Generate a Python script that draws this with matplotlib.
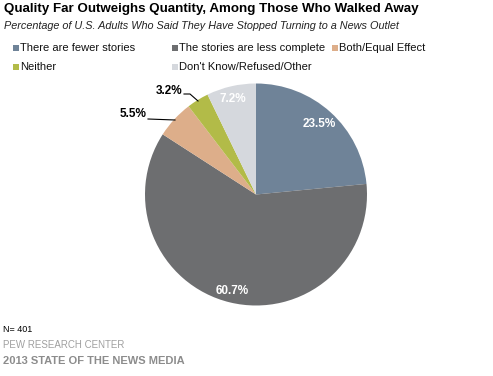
import matplotlib.pyplot as plt

labels = ['There are fewer stories', 'The stories are less complete', 'Both/Equal Effect',
          'Neither', "Don't Know/Refused/Other"]
values = [23.5, 60.7, 5.5, 3.2, 7.2]
colors = ['#6F8398', '#6D6E70', '#DDAE8A', '#B2BB48', '#D5D8DD']

plt.rcParams['font.family'] = ['Liberation Sans', 'DejaVu Sans']

fig = plt.figure(figsize=(4.93, 3.76), dpi=100)
W, H = 493, 376

# pie axes: center ~ (256, 194.5), radius ~111 px
r = 111
cx, cy = 256, 194.5
ax = fig.add_axes([(cx - r) / W, 1 - (cy + r) / H, 2 * r / W, 2 * r / H])
wedges, _ = ax.pie(values, colors=colors, startangle=90, counterclock=False,
                   radius=1, wedgeprops=dict(linewidth=0))
ax.set_xlim(-1, 1)
ax.set_ylim(-1, 1)
ax.set_aspect('equal')
ax.axis('off')

def px(x, y):
    return ((x - cx) / r, (cy - y) / r)

# in-slice labels
for txt, (x, y) in [('23.5%', (319, 124)), ('60.7%', (232, 291)), ('7.2%', (233, 99))]:
    ax.text(*px(x, y), txt, color='white', fontsize=8.5, fontweight='bold',
            ha='center', va='center')

# outside labels with leader lines
ax.text(*px(133, 114), '5.5%', color='black', fontsize=8.5, fontweight='bold',
        ha='center', va='center')
ax.plot(*zip(px(148, 119), px(175, 120)), color='black', lw=0.8)
ax.text(*px(169, 91), '3.2%', color='black', fontsize=8.5, fontweight='bold',
        ha='center', va='center')
ax.plot(*zip(px(184, 94), px(190, 94), px(198, 101)), color='black', lw=0.8)

# titles
fig.text(4 / W, 1 - 9 / H, 'Quality Far Outweighs Quantity, Among Those Who Walked Away',
         fontsize=9.6, fontweight='bold', va='center', ha='left')
fig.text(4 / W, 1 - 26 / H, 'Percentage of U.S. Adults Who Said They Have Stopped Turning to a News Outlet',
         fontsize=7.8, style='italic', color='#222222', va='center', ha='left')

# legend
leg_pos = [(13, 48), (172, 48), (332, 48), (13, 67), (172, 67)]
for lab, col, (x, y) in zip(labels, colors, leg_pos):
    fig.patches.append(plt.Rectangle((x / W, 1 - (y + 3) / H), 6 / W, 6 / H,
                                     transform=fig.transFigure, facecolor=col, edgecolor='none'))
    fig.text((x + 7) / W, 1 - y / H, lab, fontsize=8, va='center', ha='left', color='#111111')

# footer
fig.text(3 / W, 1 - 329 / H, 'N= 401', fontsize=6.5, va='center', ha='left')
fig.text(3 / W, 1 - 345 / H, 'PEW RESEARCH CENTER', fontsize=7, color='#A0A0A0',
         va='center', ha='left')
fig.text(3 / W, 1 - 361 / H, '2013 STATE OF THE NEWS MEDIA', fontsize=8, fontweight='bold',
         color='#8C8C8C', va='center', ha='left')

fig.savefig('out.png', dpi=100)
